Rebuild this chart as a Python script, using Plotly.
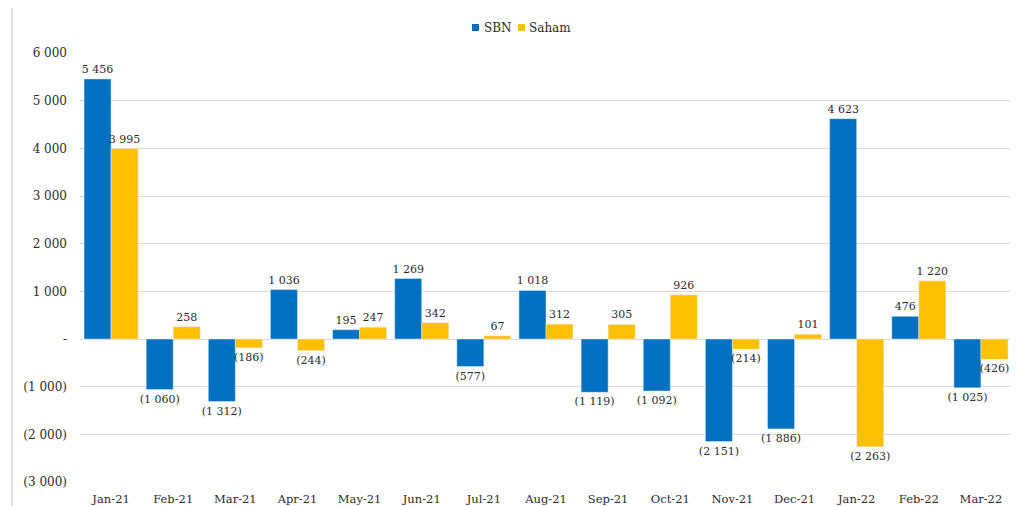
import plotly.graph_objects as go

months = ["Jan-21", "Feb-21", "Mar-21", "Apr-21", "May-21", "Jun-21", "Jul-21", "Aug-21",
          "Sep-21", "Oct-21", "Nov-21", "Dec-21", "Jan-22", "Feb-22", "Mar-22"]
sbn = [5456, -1060, -1312, 1036, 195, 1269, -577, 1018, -1119, -1092, -2151, -1886, 4623, 476, -1025]
saham = [3995, 258, -186, -244, 247, 342, 67, 312, 305, 926, -214, 101, -2263, 1220, -426]
ytick_vals = [-3000, -2000, -1000, 0, 1000, 2000, 3000, 4000, 5000, 6000]
ytick_text = ["(3 000)", "(2 000)", "(1 000)", "-", "1 000", "2 000", "3 000", "4 000", "5 000", "6 000"]
series_names = ["SBN", "Saham"]
series_colors = ["#0070C0", "#FFC000"]


def fmt(v):
    s = f"{abs(v):,}".replace(",", " ")
    return f"({s})" if v < 0 else s


FONT = "DejaVu Serif"
TXT = "#2B2B2B"
fig = go.Figure()
for name, vals, col in zip(series_names, [sbn, saham], series_colors):
    fig.add_trace(go.Bar(name=name, x=months, y=vals, marker_color=col,
                         text=[fmt(v) for v in vals], textposition="outside", constraintext="none",
                         textfont=dict(family=FONT, size=11, color=TXT), cliponaxis=False,
                         showlegend=False))

# page has an 8px body margin; figure coordinates are offset accordingly
W, H = 1010, 498
L, R, T, B = 72, 6, 45, 24
pw = W - L - R
ph = H - T - B


def px_x(x):
    return (x - L) / pw


def px_y(y):
    return 1 - (y - T) / ph


shapes = [dict(type="line", xref="paper", yref="paper", x0=px_x(4), x1=px_x(4),
               y0=px_y(H + 2), y1=px_y(0), line=dict(color="#BFBFBF", width=1))]
annotations = []
leg_sq_x = [464, 510]
leg_txt_x = [474, 519]
for name, col, sx, tx in zip(series_names, series_colors, leg_sq_x, leg_txt_x):
    shapes.append(dict(type="rect", xref="paper", yref="paper", x0=px_x(sx), x1=px_x(sx + 7),
                       y0=px_y(23), y1=px_y(16), fillcolor=col, line=dict(width=0)))
    annotations.append(dict(text=name, xref="paper", yref="paper", x=px_x(tx), y=px_y(19.5),
                            xanchor="left", yanchor="middle", showarrow=False,
                            font=dict(family=FONT, size=12, color=TXT)))

fig.update_layout(
    width=W, height=H,
    margin=dict(l=L, r=R, t=T, b=B, autoexpand=False),
    barmode="group", bargap=0.13, bargroupgap=0,
    plot_bgcolor="white", paper_bgcolor="white",
    font=dict(family=FONT, size=12, color=TXT),
    showlegend=False,
    xaxis=dict(showgrid=False, showline=False, ticks="", tickfont=dict(size=11.5), automargin=False,
               ticklabelstandoff=8),
    yaxis=dict(range=[-3000, 6000], tickvals=ytick_vals, ticktext=ytick_text, automargin=False,
               showgrid=True, gridcolor="#D9D9D9", gridwidth=1, zeroline=True, zerolinecolor="#D9D9D9",
               zerolinewidth=1, showline=False, ticks="", ticklabelstandoff=12, tickfont=dict(size=12)),
    shapes=shapes,
    annotations=annotations,
)
fig.write_html("out.html")
